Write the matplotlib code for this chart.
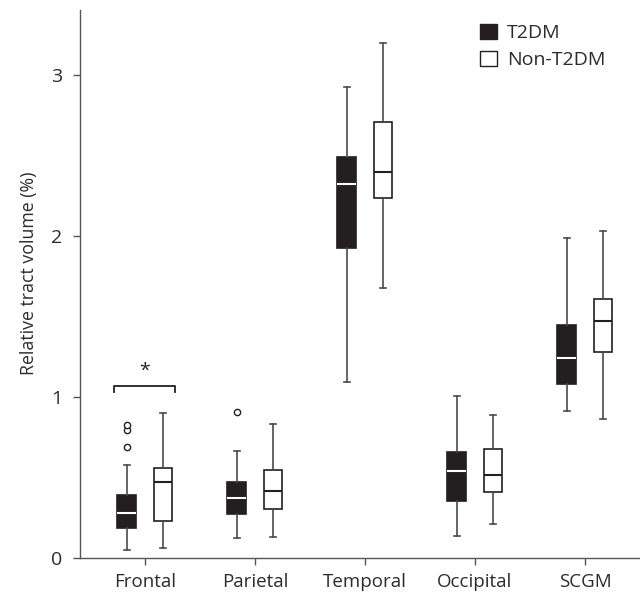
import matplotlib
matplotlib.use("Agg")
import matplotlib.pyplot as plt
from matplotlib.patches import Rectangle

plt.rcParams['font.family'] = ['Open Sans', 'DejaVu Sans']

categories = ["Frontal", "Parietal", "Temporal", "Occipital", "SCGM"]
groups = ["T2DM", "Non-T2DM"]

# [whislo, q1, median, q3, whishi]
t2dm_stats = [
    [0.047, 0.188, 0.278, 0.388, 0.576],
    [0.122, 0.270, 0.369, 0.470, 0.666],
    [1.094, 1.925, 2.320, 2.489, 2.922],
    [0.136, 0.353, 0.541, 0.654, 1.005],
    [0.913, 1.082, 1.242, 1.447, 1.986],
]
non_stats = [
    [0.059, 0.230, 0.470, 0.558, 0.899],
    [0.127, 0.306, 0.412, 0.548, 0.828],
    [1.678, 2.231, 2.395, 2.706, 3.193],
    [0.212, 0.407, 0.513, 0.678, 0.889],
    [0.861, 1.275, 1.470, 1.607, 2.028],
]
t2dm_outliers = [[0.69, 0.795, 0.825], [0.906], [], [], []]
non_outliers = [[], [], [], [], []]

sig_value = 1.064
sig_label = "*"

dark = "#231f20"
wcol = "#4a4a4a"
tcol = "#2b2b2b"

def make_stats(arr, outl):
    out = []
    for (lo, q1, med, q3, hi), fl in zip(arr, outl):
        out.append(dict(whislo=lo, q1=q1, med=med, q3=q3, whishi=hi, fliers=fl))
    return out

fig = plt.figure(figsize=(6.4, 5.96), dpi=100)
ax = fig.add_axes([0.125, 0.064, 0.875, 0.919])

off = 0.165
width = 0.17
pos = list(range(len(categories)))

ax.bxp(make_stats(t2dm_stats, t2dm_outliers), positions=[p - off for p in pos],
       widths=width, patch_artist=True, capwidths=0.05,
       boxprops=dict(facecolor=dark, edgecolor=dark, linewidth=1.2),
       medianprops=dict(color="white", linewidth=1.5),
       whiskerprops=dict(color=wcol, linewidth=1.2),
       capprops=dict(color=wcol, linewidth=1.2),
       flierprops=dict(marker="o", markersize=4.5, markerfacecolor="white",
                       markeredgecolor=dark, markeredgewidth=1.0))
ax.bxp(make_stats(non_stats, non_outliers), positions=[p + off for p in pos],
       widths=width, patch_artist=True, capwidths=0.05,
       boxprops=dict(facecolor="white", edgecolor=dark, linewidth=1.2),
       medianprops=dict(color=dark, linewidth=1.5),
       whiskerprops=dict(color=wcol, linewidth=1.2),
       capprops=dict(color=wcol, linewidth=1.2),
       flierprops=dict(marker="o", markersize=4.5, markerfacecolor="white",
                       markeredgecolor=dark, markeredgewidth=1.0))

# significance bracket on Frontal
x0, x1 = pos[0] - 0.28, pos[0] + 0.27
ax.plot([x0, x0, x1, x1], [sig_value - 0.037, sig_value, sig_value, sig_value - 0.037],
        color=dark, linewidth=1.3, clip_on=False)
ax.text(pos[0], sig_value + 0.04, sig_label, ha="center", va="bottom",
        fontsize=14, color=dark)

ax.set_xlim(-0.59, 4.5)
ax.set_ylim(0, 3.4)
ax.set_xticks(pos)
ax.set_xticklabels(categories, fontsize=13.5, color=tcol)
ax.set_yticks([0, 1, 2, 3])
ax.set_yticklabels(["0", "1", "2", "3"], fontsize=14, color=tcol)
ax.set_ylabel("Relative tract volume (%)", fontsize=12.8, color=tcol)
ax.yaxis.set_label_coords(-0.075, 0.52)
for s in ["top", "right"]:
    ax.spines[s].set_visible(False)
for s in ["left", "bottom"]:
    ax.spines[s].set_color("#555555")
    ax.spines[s].set_linewidth(1.0)
ax.tick_params(axis="both", direction="out", length=5, color="#555555", width=1.0)
ax.tick_params(axis="x", pad=6)
ax.tick_params(axis="y", pad=8)

# legend
handles = [Rectangle((0, 0), 1, 1, facecolor=dark, edgecolor=dark, linewidth=1.0),
           Rectangle((0, 0), 1, 1, facecolor="white", edgecolor=dark, linewidth=1.0)]
leg = ax.legend(handles, groups, loc="upper left", bbox_to_anchor=(0.69, 1.0),
                frameon=False, fontsize=14, handlelength=0.85, handleheight=0.85,
                handletextpad=0.55, labelspacing=0.45, borderaxespad=0.3)
for t in leg.get_texts():
    t.set_color(tcol)

fig.savefig("out.png", dpi=100)
